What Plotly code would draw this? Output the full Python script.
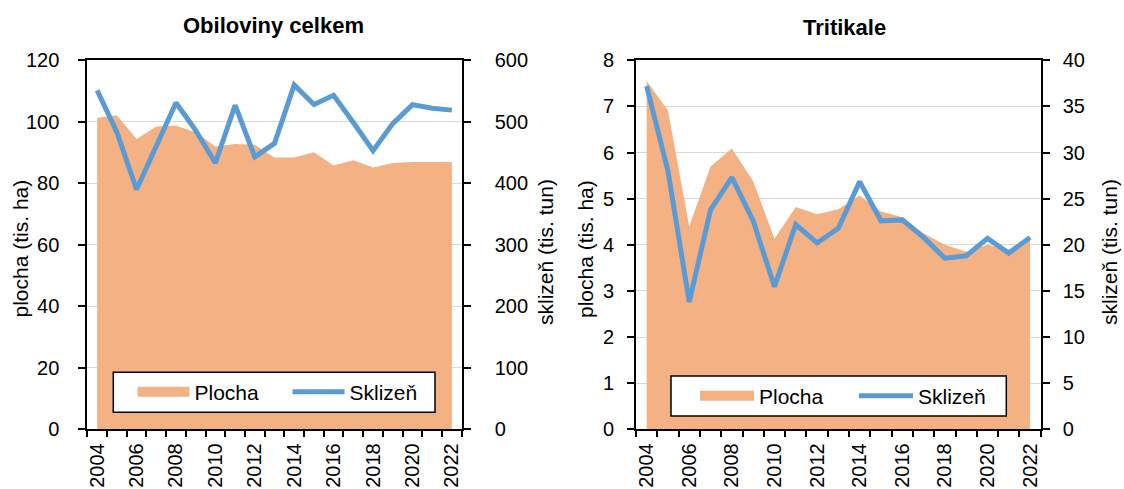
import plotly.graph_objects as go

# ---------------- data ----------------
years = list(range(2004, 2023))
tick_years = years[::2]

obil_plocha = [101.3, 102.1, 94.4, 98.5, 98.7, 96.6, 92.0, 92.8, 92.5, 88.4,
               88.4, 90.1, 85.8, 87.5, 85.1, 86.6, 86.9, 86.9, 86.9]
obil_sklizen = [551, 483, 390, 460, 531, 486, 433, 527, 443, 465,
                560, 528, 543, 499, 453, 497, 528, 522, 519]

trit_plocha = [7.55, 6.91, 4.40, 5.70, 6.09, 5.38, 4.13, 4.82, 4.66, 4.77,
               5.07, 4.72, 4.60, 4.25, 4.00, 3.85, 4.00, 3.90, 4.10]
trit_sklizen = [37.2, 28.0, 13.8, 23.8, 27.3, 22.6, 15.45, 22.2, 20.2, 21.8,
                26.85, 22.6, 22.7, 20.8, 18.55, 18.8, 20.7, 19.1, 20.8]

titles = ["Obiloviny celkem", "Tritikale"]
series_names = ["Plocha", "Sklizeň"]
ytitle_left = "plocha (tis. ha)"
ytitle_right = "sklizeň (tis. tun)"

# ---------------- style ----------------
W, H = 1124, 489
FONT = "Liberation Sans, Arial, sans-serif"
AREA = "#F4B183"
LINE = "#5B9BD5"
GRID = "#D9D9D9"


def px_x(p):
    return p / W


def px_y(p):
    return (H - p) / H


fig = go.Figure()

panels = [
    dict(xa="x", ya="y", ya2="y2", leg="legend", area=obil_plocha, line=obil_sklizen),
    dict(xa="x2", ya="y3", ya2="y4", leg="legend2", area=trit_plocha, line=trit_sklizen),
]

for p in panels:
    fig.add_trace(go.Scatter(x=years, y=p["area"], mode="lines", fill="tozeroy",
                             fillcolor=AREA, line=dict(width=0, color=AREA),
                             xaxis=p["xa"], yaxis=p["ya"], showlegend=False,
                             hoverinfo="skip"))
    # legend swatch for the area
    fig.add_trace(go.Scatter(x=[None], y=[None], mode="lines", name=series_names[0],
                             line=dict(width=10, color=AREA),
                             xaxis=p["xa"], yaxis=p["ya"], legend=p["leg"]))
    fig.add_trace(go.Scatter(x=years, y=p["line"], mode="lines", name=series_names[1],
                             line=dict(width=5, color=LINE),
                             xaxis=p["xa"], yaxis=p["ya2"], legend=p["leg"]))

minor_vals = [y - 0.5 for y in years] + [years[-1] + 0.5]

xcommon = dict(range=[years[0] - 0.5, years[-1] + 0.5], tickmode="array",
               tickvals=tick_years, ticktext=[str(v) for v in tick_years],
               tickangle=-90, ticks="", showline=True, mirror=True,
               linecolor="black", linewidth=2, showgrid=False, zeroline=False,
               automargin=False,
               tickfont=dict(size=20, color="black", family=FONT),
               ticklabelstandoff=4,
               minor=dict(tickmode="array", tickvals=minor_vals, ticks="outside",
                          ticklen=6, tickcolor="black", tickwidth=1.5, showgrid=False))

ycommon = dict(ticks="outside", ticklen=7, tickcolor="black", tickwidth=1.5,
               showline=True, linecolor="black", linewidth=2, zeroline=False,
               automargin=False,
               tickfont=dict(size=20, color="black", family=FONT))

dom_y = [px_y(429.3), px_y(60.3)]
dom_x1 = [px_x(87.3), px_x(461.7)]
dom_x2 = [px_x(636), px_x(1040.7)]

fig.update_layout(
    width=W, height=H, margin=dict(l=0, r=0, t=0, b=0, pad=0, autoexpand=False),
    paper_bgcolor="white", plot_bgcolor="white",
    font=dict(family=FONT, color="black"),
    xaxis=dict(domain=dom_x1, anchor="y", **xcommon),
    xaxis2=dict(domain=dom_x2, anchor="y3", **xcommon),
    yaxis=dict(domain=dom_y, anchor="x", range=[0, 120], dtick=20, showgrid=True,
               gridcolor=GRID, gridwidth=1, ticklabelstandoff=15, **ycommon),
    yaxis2=dict(overlaying="y", anchor="x", side="right", range=[0, 600], dtick=100,
                showgrid=False, ticklabelstandoff=20, **ycommon),
    yaxis3=dict(domain=dom_y, anchor="x2", range=[0, 8], dtick=1, showgrid=True,
                gridcolor=GRID, gridwidth=1, ticklabelstandoff=9, **ycommon),
    yaxis4=dict(overlaying="y3", anchor="x2", side="right", range=[0, 40], dtick=5,
                showgrid=False, ticklabelstandoff=9, **ycommon),
    legend=dict(orientation="h", x=px_x(132.5), xanchor="left", y=px_y(392),
                yanchor="middle", bgcolor="rgba(0,0,0,0)", borderwidth=0,
                itemwidth=52, entrywidth=88, font=dict(size=21, family=FONT)),
    legend2=dict(orientation="h", x=px_x(695), xanchor="left", y=px_y(396),
                 yanchor="middle", bgcolor="rgba(0,0,0,0)", borderwidth=0,
                 itemwidth=54, entrywidth=90, font=dict(size=21, family=FONT)),
    shapes=[
        dict(type="rect", xref="paper", yref="paper", layer="above",
             x0=px_x(113.3), x1=px_x(435), y0=px_y(412.3), y1=px_y(372.3),
             fillcolor="white", line=dict(color="black", width=1.5)),
        dict(type="rect", xref="paper", yref="paper", layer="above",
             x0=px_x(671), x1=px_x(1006.3), y0=px_y(416), y1=px_y(376),
             fillcolor="white", line=dict(color="black", width=1.5)),
    ],
    annotations=[
        dict(text="<b>" + titles[0] + "</b>", x=px_x(273.7), y=px_y(25), xref="paper",
             yref="paper", showarrow=False, xanchor="center", yanchor="middle",
             font=dict(size=22, family=FONT)),
        dict(text="<b>" + titles[1] + "</b>", x=px_x(844), y=px_y(27), xref="paper",
             yref="paper", showarrow=False, xanchor="center", yanchor="middle",
             font=dict(size=22, family=FONT)),
        dict(text=ytitle_left, x=px_x(20.5), y=px_y(249), xref="paper", yref="paper",
             showarrow=False, textangle=-90, xanchor="center", yanchor="middle",
             font=dict(size=21, family=FONT)),
        dict(text=ytitle_right, x=px_x(545), y=px_y(252), xref="paper", yref="paper",
             showarrow=False, textangle=-90, xanchor="center", yanchor="middle",
             font=dict(size=21, family=FONT)),
        dict(text=ytitle_left, x=px_x(586), y=px_y(249), xref="paper", yref="paper",
             showarrow=False, textangle=-90, xanchor="center", yanchor="middle",
             font=dict(size=21, family=FONT)),
        dict(text=ytitle_right, x=px_x(1109), y=px_y(252), xref="paper", yref="paper",
             showarrow=False, textangle=-90, xanchor="center", yanchor="middle",
             font=dict(size=21, family=FONT)),
    ],
)

fig.write_html("out.html",
               config={"displayModeBar": False},
               post_script="document.body.style.margin='0';"
                           "document.body.style.overflow='hidden';")
